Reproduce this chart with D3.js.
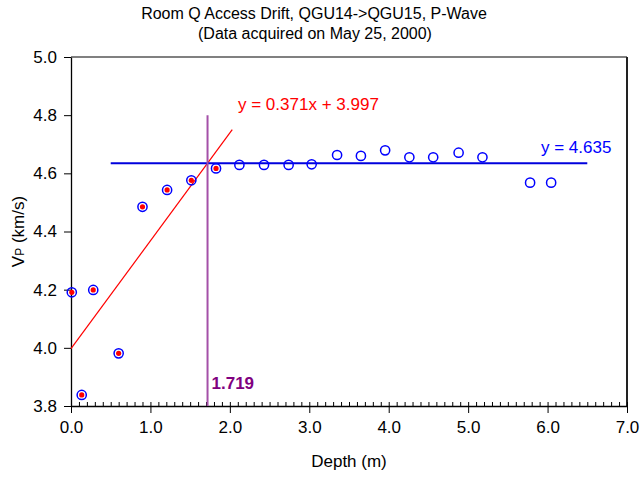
<!DOCTYPE html>
<html>
<head>
<meta charset="utf-8">
<script src="https://cdn.jsdelivr.net/npm/d3@7"></script>
<style>
  body { margin: 0; background: #fff; }
  text { font-family: "Liberation Sans", Arial, sans-serif; }
</style>
</head>
<body>
<div id="chart"></div>
<script>
// chart data
var depthLow = [0.01, 0.135, 0.28, 0.60, 0.90, 1.21, 1.515, 1.826];
var velLow = [4.191, 3.838, 4.199, 3.981, 4.485, 4.543, 4.576, 4.617];
var depthHigh = [2.12, 2.43, 2.74, 3.03, 3.35, 3.65, 3.955, 4.26, 4.56, 4.88, 5.18, 5.78, 6.045];
var velHigh = [4.629, 4.629, 4.629, 4.631, 4.663, 4.66, 4.679, 4.655, 4.655, 4.671, 4.655, 4.568, 4.568];
var xTicks = [0, 1, 2, 3, 4, 5, 6, 7];
var yTicks = [3.8, 4.0, 4.2, 4.4, 4.6, 4.8, 5.0];
var fitSlope = 0.371, fitIntercept = 3.997, fitRange = [0, 2.03];
var meanValue = 4.635, meanRange = [0.5, 6.5];
var breakDepth = 1.719, breakTop = 4.8;

var svgWidth = 641;
var svgHeight = 478;
var margin = { top: 57, right: 14, bottom: 72, left: 71 };
var width = svgWidth - margin.left - margin.right;
var height = svgHeight - margin.top - margin.bottom;

var svg = d3.select("#chart").append("svg")
  .attr("width", svgWidth)
  .attr("height", svgHeight);

var chartGroup = svg.append("g")
  .attr("transform", `translate(${margin.left}, ${margin.top})`);

var xLinearScale = d3.scaleLinear().domain([0, 7]).range([0, width]);
var yLinearScale = d3.scaleLinear().domain([3.8, 5.0]).range([height, 0]);

// plot area border (top gray, right dark)
chartGroup.append("line")
  .attr("x1", 0).attr("x2", width).attr("y1", 0).attr("y2", 0)
  .attr("stroke", "#808080").attr("stroke-width", 2);
chartGroup.append("line")
  .attr("x1", width).attr("x2", width).attr("y1", 0).attr("y2", height)
  .attr("stroke", "#222").attr("stroke-width", 2);

// minor ticks on x axis, pointing inward
var minorTicks = d3.range(0, 70.5, 1).map(d => d / 10);
chartGroup.append("g")
  .attr("transform", `translate(0, ${height})`)
  .call(d3.axisTop(xLinearScale).tickValues(minorTicks).tickSize(4).tickFormat(""))
  .call(g => g.select(".domain").remove());

// x axis
var bottomAxis = d3.axisBottom(xLinearScale)
  .tickValues(xTicks).tickSize(7).tickSizeOuter(0).tickPadding(8)
  .tickFormat(d3.format(".1f"));
var xAxis = chartGroup.append("g")
  .attr("transform", `translate(0, ${height})`)
  .call(bottomAxis);

// y axis
var leftAxis = d3.axisLeft(yLinearScale)
  .tickValues(yTicks).tickSize(7).tickSizeOuter(0).tickPadding(7)
  .tickFormat(d3.format(".1f"));
var yAxis = chartGroup.append("g").call(leftAxis);

[xAxis, yAxis].forEach(function (ax) {
  ax.selectAll("text").attr("font-size", 17).attr("fill", "#000")
    .style("font-family", "'Liberation Sans', Arial, sans-serif");
  ax.selectAll("line").attr("stroke", "#000");
  ax.select(".domain").attr("stroke", "#000").attr("stroke-width", 1.3);
});

// linear fit line (red)
chartGroup.append("line")
  .attr("x1", xLinearScale(fitRange[0]))
  .attr("y1", yLinearScale(fitSlope * fitRange[0] + fitIntercept))
  .attr("x2", xLinearScale(fitRange[1]))
  .attr("y2", yLinearScale(fitSlope * fitRange[1] + fitIntercept))
  .attr("stroke", "#ff0000").attr("stroke-width", 1.2);

// mean line (blue)
chartGroup.append("line")
  .attr("x1", xLinearScale(meanRange[0]))
  .attr("x2", xLinearScale(meanRange[1]))
  .attr("y1", yLinearScale(meanValue))
  .attr("y2", yLinearScale(meanValue))
  .attr("stroke", "#0000dd").attr("stroke-width", 2);

// break point line (purple)
chartGroup.append("line")
  .attr("x1", xLinearScale(breakDepth))
  .attr("x2", xLinearScale(breakDepth))
  .attr("y1", yLinearScale(breakTop))
  .attr("y2", height)
  .attr("stroke", "#a450a8").attr("stroke-width", 2);

// points
var allDepth = depthLow.concat(depthHigh);
var allVel = velLow.concat(velHigh);
chartGroup.selectAll("circle.ring")
  .data(allDepth)
  .enter().append("circle")
  .attr("class", "ring")
  .attr("cx", d => xLinearScale(d))
  .attr("cy", (d, i) => yLinearScale(allVel[i]))
  .attr("r", 4.6)
  .attr("fill", "none")
  .attr("stroke", "#0000ff")
  .attr("stroke-width", 1.5);

chartGroup.selectAll("circle.dot")
  .data(depthLow)
  .enter().append("circle")
  .attr("class", "dot")
  .attr("cx", d => xLinearScale(d))
  .attr("cy", (d, i) => yLinearScale(velLow[i]))
  .attr("r", 2.6)
  .attr("fill", "#ff0000");

// annotations
chartGroup.append("text")
  .attr("x", xLinearScale(breakDepth) + 4)
  .attr("y", height - 17)
  .attr("font-size", 17).attr("font-weight", "bold").attr("fill", "#800080")
  .text("1.719");

chartGroup.append("text")
  .attr("x", 167)
  .attr("y", 53)
  .attr("font-size", 17).attr("fill", "#ff0000")
  .text("y = 0.371x + 3.997");

chartGroup.append("text")
  .attr("x", 470)
  .attr("y", 96)
  .attr("font-size", 17).attr("fill", "#0000ff")
  .text("y = 4.635");

// titles
svg.append("text")
  .attr("x", 314).attr("y", 19)
  .attr("text-anchor", "middle").attr("font-size", 16)
  .text("Room Q Access Drift, QGU14->QGU15, P-Wave");
svg.append("text")
  .attr("x", 315).attr("y", 39)
  .attr("text-anchor", "middle").attr("font-size", 16)
  .text("(Data acquired on May 25, 2000)");

svg.append("text")
  .attr("x", margin.left + width / 2).attr("y", 467)
  .attr("text-anchor", "middle").attr("font-size", 17)
  .text("Depth (m)");

var yTitle = svg.append("text")
  .attr("transform", `translate(24, ${margin.top + height / 2}) rotate(-90)`)
  .attr("text-anchor", "middle").attr("font-size", 17);
yTitle.append("tspan").text("V");
yTitle.append("tspan").attr("font-size", 12).text("P");
yTitle.append("tspan").text(" (km/s)");
</script>
</body>
</html>
